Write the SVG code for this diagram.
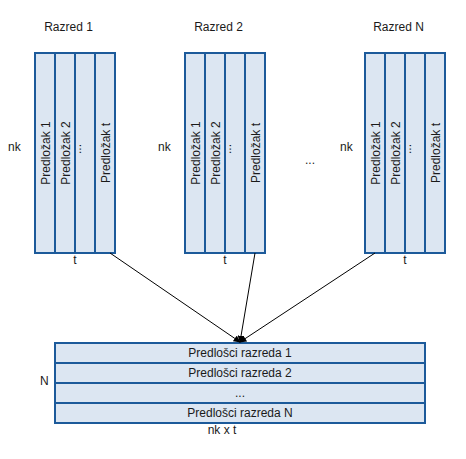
<svg xmlns="http://www.w3.org/2000/svg" width="466" height="459" viewBox="0 0 466 459">
<style>
text{font-family:"Liberation Sans",Arial,sans-serif;font-size:12px;fill:#1a1a1a}
.c{text-anchor:middle}
.cell{fill:#dce6f2;stroke:#1c5a9a;stroke-width:2}
.edge{stroke:#000;stroke-width:1;fill:none;marker-end:url(#ah)}
</style>
<defs>
<marker id="ah" viewBox="0 0 10 10" refX="9" refY="5" markerWidth="7" markerHeight="7" markerUnits="userSpaceOnUse" orient="auto">
<path d="M0,0 L10,5 L0,10 Z" fill="#000"/>
</marker>
</defs>
<rect width="466" height="459" fill="#fff"/>

<g id="razred1">
<text class="c" x="68.5" y="31">Razred 1</text>
<text x="8" y="151">nk</text>
<rect class="cell" x="35" y="53" width="20" height="200"/>
<rect class="cell" x="55" y="53" width="20" height="200"/>
<rect class="cell" x="75" y="53" width="20" height="200"/>
<rect class="cell" x="95" y="53" width="20" height="200"/>
<text class="c" transform="translate(49.5,153) rotate(-90)">Predložak 1</text>
<text class="c" transform="translate(69.5,153) rotate(-90)">Predložak 2</text>
<text class="c" transform="translate(81,149) rotate(-90)">...</text>
<text class="c" transform="translate(109.5,153) rotate(-90)">Predložak t</text>
<text class="c" x="75" y="264">t</text>
</g>

<g id="razred2">
<text class="c" x="218.5" y="31">Razred 2</text>
<text x="158" y="151">nk</text>
<rect class="cell" x="185" y="53" width="20" height="200"/>
<rect class="cell" x="205" y="53" width="20" height="200"/>
<rect class="cell" x="225" y="53" width="20" height="200"/>
<rect class="cell" x="245" y="53" width="20" height="200"/>
<text class="c" transform="translate(199.5,153) rotate(-90)">Predložak 1</text>
<text class="c" transform="translate(219.5,153) rotate(-90)">Predložak 2</text>
<text class="c" transform="translate(231,149) rotate(-90)">...</text>
<text class="c" transform="translate(259.5,153) rotate(-90)">Predložak t</text>
<text class="c" x="225" y="264">t</text>
</g>

<text class="c" x="310" y="164">...</text>

<g id="razredN">
<text class="c" x="398.5" y="31">Razred N</text>
<text x="340" y="151">nk</text>
<rect class="cell" x="365" y="53" width="20" height="200"/>
<rect class="cell" x="385" y="53" width="20" height="200"/>
<rect class="cell" x="405" y="53" width="20" height="200"/>
<rect class="cell" x="425" y="53" width="20" height="200"/>
<text class="c" transform="translate(379.5,153) rotate(-90)">Predložak 1</text>
<text class="c" transform="translate(399.5,153) rotate(-90)">Predložak 2</text>
<text class="c" transform="translate(411,149) rotate(-90)">...</text>
<text class="c" transform="translate(439.5,153) rotate(-90)">Predložak t</text>
<text class="c" x="405" y="264">t</text>
</g>

<g id="matrica">
<text x="40" y="385">N</text>
<rect class="cell" x="55" y="343" width="370" height="20"/>
<rect class="cell" x="55" y="363" width="370" height="20"/>
<rect class="cell" x="55" y="383" width="370" height="20"/>
<rect class="cell" x="55" y="403" width="370" height="20"/>
<text class="c" x="240" y="357">Predlošci razreda 1</text>
<text class="c" x="240" y="377">Predlošci razreda 2</text>
<text class="c" x="240" y="397">...</text>
<text class="c" x="240" y="417">Predlošci razreda N</text>
<text class="c" x="222" y="434">nk x t</text>
</g>

<g id="connectors">
<line class="edge" x1="110" y1="253" x2="240" y2="342"/>
<line class="edge" x1="255" y1="253" x2="240" y2="342"/>
<line class="edge" x1="375" y1="253" x2="240" y2="342"/>
</g>
</svg>
